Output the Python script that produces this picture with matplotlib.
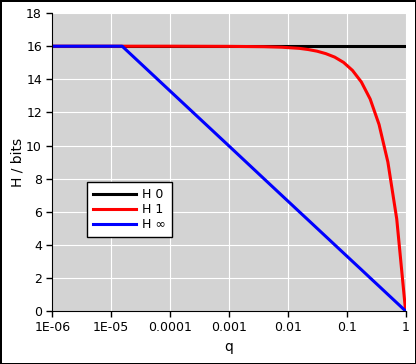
import matplotlib
matplotlib.use('Agg')
import matplotlib.pyplot as plt
from matplotlib.ticker import FixedLocator, NullLocator

# valores
q = [1e-6, 1.53e-5, 1e-4, 1e-3, 0.0039, 0.0078, 0.0156, 0.0221, 0.03125, 0.0442,
     0.0625, 0.0884, 0.125, 0.177, 0.25, 0.354, 0.5, 0.707, 1.0]
h0 = [16] * len(q)
h1 = [16.0, 16.0, 16.0, 15.99, 15.97, 15.94, 15.87, 15.80, 15.70, 15.55,
      15.34, 15.02, 14.54, 13.84, 12.81, 11.27, 9.0, 5.56, 0.0]
hinf = [16.0, 16.0, 13.29, 9.97, 8.0, 7.0, 6.0, 5.5, 5.0, 4.5,
        4.0, 3.5, 3.0, 2.5, 2.0, 1.5, 1.0, 0.5, 0.0]

xticks = [1e-6, 1e-5, 1e-4, 1e-3, 1e-2, 1e-1, 1]
xlabels = ['1E-06', '1E-05', '0.0001', '0.001', '0.01', '0.1', '1']

fig = plt.figure(figsize=(4.16, 3.64), dpi=100)
fig.patch.set_edgecolor('black')
fig.patch.set_linewidth(2)
ax = fig.add_axes([0.126, 0.1456, 0.849, 0.8184])
ax.set_facecolor('#d3d3d3')

ax.plot(q, h0, color='black', lw=2.2, label='H 0')
ax.plot(q, h1, color='red', lw=2.2, label='H 1')
ax.plot(q, hinf, color='blue', lw=2.2, label='H ∞')

ax.set_xscale('log')
ax.set_xlim(1e-6, 1)
ax.set_ylim(0, 18)
ax.xaxis.set_major_locator(FixedLocator(xticks))
ax.xaxis.set_minor_locator(NullLocator())
ax.set_xticklabels(xlabels)
ax.set_yticks(range(0, 19, 2))
ax.tick_params(labelsize=9, length=4, width=1, color='black')
ax.grid(True, color='white', lw=0.8)
ax.set_axisbelow(True)
for s in ['top', 'right']:
    ax.spines[s].set_visible(False)

ax.set_xlabel('q', fontsize=10)
ax.set_ylabel('H / bits', fontsize=10, labelpad=1)

leg = ax.legend(loc='upper left', bbox_to_anchor=(0.098, 0.433), borderaxespad=0,
                fontsize=9, fancybox=False, framealpha=1, edgecolor='black',
                handlelength=3.4, labelspacing=0.15, borderpad=0.5,
                handletextpad=0.5)
leg.get_frame().set_linewidth(1)

fig.savefig('out.png', dpi=100, edgecolor=fig.get_edgecolor())
